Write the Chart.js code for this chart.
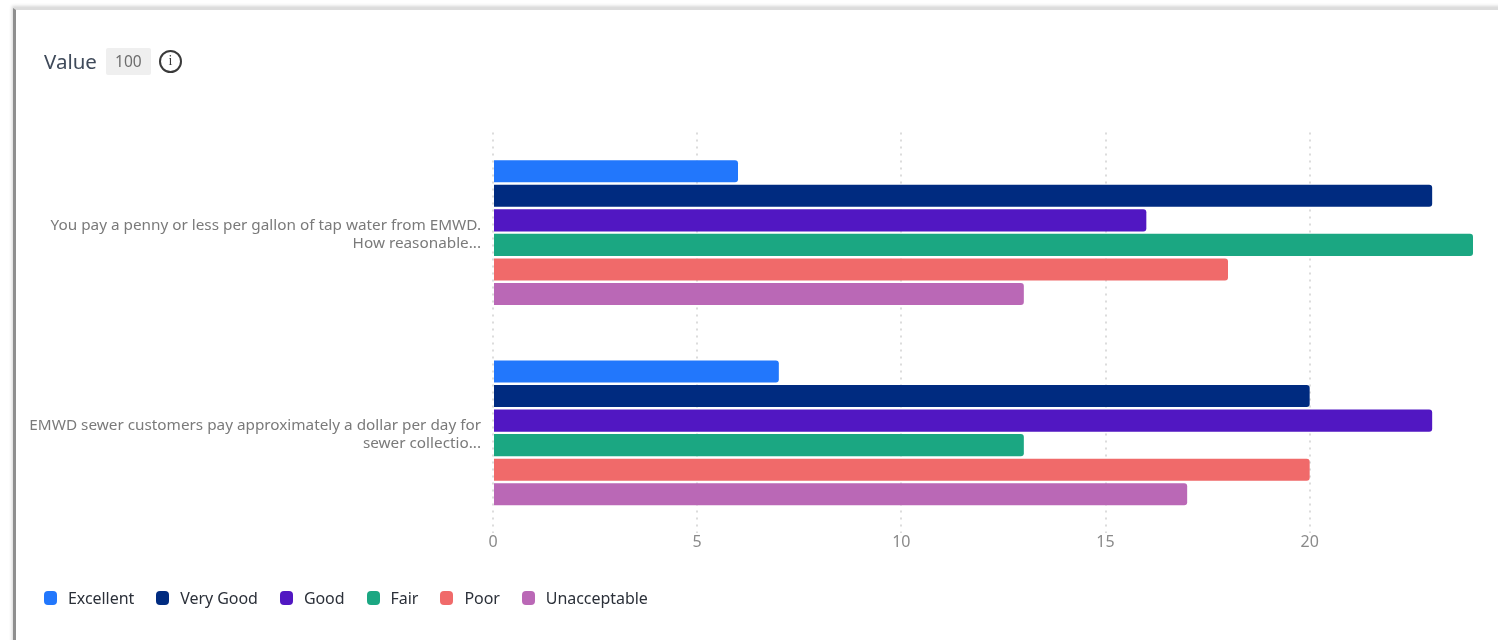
<!DOCTYPE html>
<html>
<head>
<meta charset="utf-8">
<title>Value</title>
<script src="https://cdn.jsdelivr.net/npm/chart.js@4"></script>
<style>
    html, body { margin: 0; padding: 0; background: #fff; overflow: hidden; }
    body { width: 1498px; height: 640px; position: relative; font-family: "Noto Sans", sans-serif; }
    #frame {
        position: absolute; left: 13px; top: 8px; right: -20px; bottom: -20px;
        border-top: 2px solid #dcdcdc; border-left: 3px solid #8f8f8f;
        box-shadow: -1px -2px 3px rgba(120, 120, 120, 0.3);
    }
    #chart { position: absolute; left: 0; top: 0; }
    #header { position: absolute; left: 44px; top: 46px; height: 30px; display: flex; align-items: center; }
    #title { font-size: 20.5px; color: #3f4a5a; }
    #badge {
        margin-left: 9px; width: 45px; height: 27px; line-height: 27px; text-align: center;
        background: #efefef; border-radius: 2px; font-size: 15.5px; color: #6d6d6d;
    }
    #info {
        margin-left: 8px; width: 23px; height: 23px; box-sizing: border-box; border: 2px solid #3a3a3a;
        border-radius: 50%; font: 14px/18px "Liberation Serif", serif; text-align: center; color: #3a3a3a;
    }
    #legend { position: absolute; left: 44px; top: 588px; display: flex; font-size: 16px; letter-spacing: -0.05px; color: #2b3039; line-height: 21px; }
    .item { display: flex; align-items: center; margin-right: 22px; }
    .swatch { width: 13px; height: 14px; border-radius: 4px; margin-right: 11px; margin-top: -2px; }
</style>
</head>
<body>
<div id="frame"></div>
<canvas id="chart" width="1498" height="640"></canvas>
<div id="header">
    <span id="title">Value</span>
    <span id="badge">100</span>
    <span id="info">i</span>
</div>
<div id="legend"></div>
<script>
// Survey questions, wrapped and cut the way the axis shows them
const categories = [
    ['You pay a penny or less per gallon of tap water from EMWD.', 'How reasonable...'],
    ['EMWD sewer customers pay approximately a dollar per day for', 'sewer collectio...'],
];

// Responses per rating, one value for each question
const excellent = [6, 7];
const veryGood = [23, 20];
const good = [16, 23];
const fair = [24, 13];
const poor = [18, 20];
const unacceptable = [13, 17];

const seriesNames = ['Excellent', 'Very Good', 'Good', 'Fair', 'Poor', 'Unacceptable'];
const seriesValues = [excellent, veryGood, good, fair, poor, unacceptable];
const seriesColors = ['#2277fc', '#002b80', '#5117c2', '#1ba782', '#f06a6a', '#ba68b6'];

const xTickStep = 5;
const xMax = 24;

const chart = new Chart(document.getElementById('chart'), {
    type: 'bar',
    data: {
        labels: categories,
        datasets: seriesNames.map((name, i) => ({
            label: name,
            data: seriesValues[i],
            backgroundColor: seriesColors[i],
            borderRadius: 3,
            borderSkipped: 'start',
            barPercentage: 0.9,
            categoryPercentage: 0.735,
        })),
    },
    options: {
        indexAxis: 'y',
        responsive: false,
        animation: false,
        layout: { padding: { top: 132.5, right: 25 } },
        plugins: {
            legend: { display: false },
            tooltip: { enabled: false },
        },
        scales: {
            x: {
                min: 0,
                max: xMax,
                afterFit: scale => { scale.height = 107; },
                ticks: {
                    stepSize: xTickStep,
                    includeBounds: false,
                    color: '#8a8a8a',
                    padding: 0,
                    font: { family: '"Noto Sans", sans-serif', size: 16 },
                },
                grid: {
                    color: '#dcdcdc',
                    lineWidth: 2,
                    drawTicks: false,
                    tickLength: 0,
                },
                border: { display: false, dash: [2, 5] },
            },
            y: {
                afterFit: scale => { scale.width = 493; },
                ticks: {
                    color: '#7a7a7a',
                    padding: 12,
                    labelOffset: 2,
                    font: { family: '"Noto Sans", sans-serif', size: 15.3, lineHeight: 1.2 },
                },
                grid: { display: false, drawTicks: false, tickLength: 0 },
                border: { display: false },
            },
        },
    },
});

// Legend row, built from the datasets
const legend = document.getElementById('legend');
chart.data.datasets.forEach(ds => {
    const item = document.createElement('div');
    item.className = 'item';
    const swatch = document.createElement('span');
    swatch.className = 'swatch';
    swatch.style.background = ds.backgroundColor;
    const text = document.createElement('span');
    text.textContent = ds.label;
    item.append(swatch, text);
    legend.append(item);
});
</script>
</body>
</html>
